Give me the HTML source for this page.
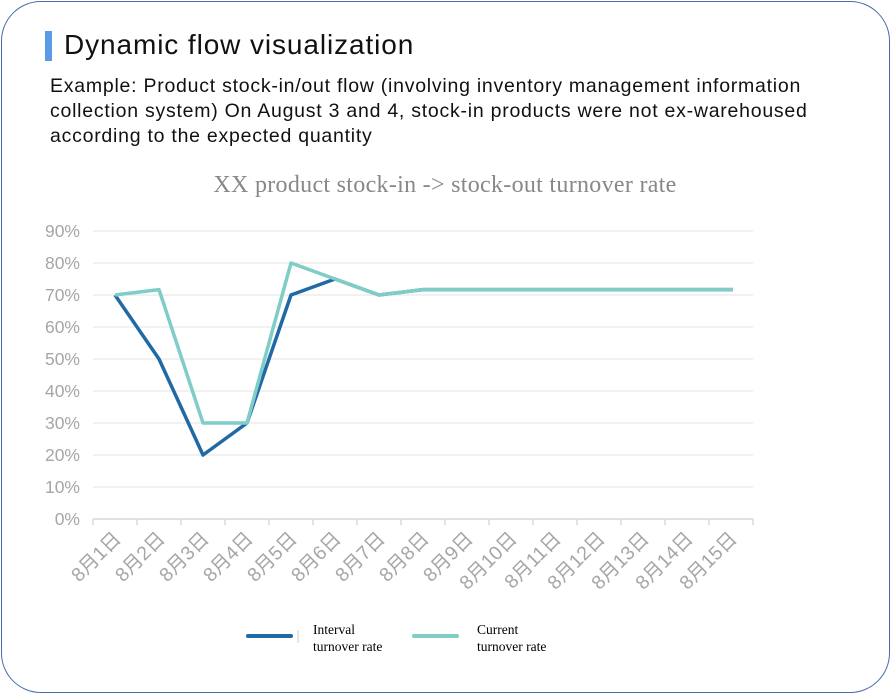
<!DOCTYPE html><html><head><style>
body{margin:0;background:#fff;width:892px;height:695px;overflow:hidden;font-family:"Liberation Sans","Noto Sans CJK SC",sans-serif}
.card{position:absolute;left:1px;top:1px;width:889px;height:692px;border:1.5px solid #4a6aa8;border-radius:40px;box-sizing:border-box}
.bar{position:absolute;left:45px;top:31px;width:7px;height:30px;background:#5b9be6}
.h{position:absolute;left:64px;top:29px;font-size:28px;letter-spacing:0.9px;color:#111}
.p{position:absolute;left:50px;top:74px;font-size:19.5px;letter-spacing:0.75px;line-height:25px;color:#111;width:790px}
</style></head><body>
<div class="card"></div><div class="bar"></div>
<div class="h">Dynamic flow visualization</div>
<div class="p">Example: Product stock-in/out flow (involving inventory management information collection system) On August 3 and 4, stock-in products were not ex-warehoused according to the expected quantity</div>
<svg width="892" height="695" style="position:absolute;left:0;top:0">
<text x="445" y="192" text-anchor="middle" font-family="Liberation Serif" font-size="24" letter-spacing="0.3" fill="#888">XX product stock-in -&gt; stock-out turnover rate</text>
<g stroke="#e3e3e3" stroke-width="1">
<line x1="93" x2="753" y1="231" y2="231"/><line x1="93" x2="753" y1="263" y2="263"/><line x1="93" x2="753" y1="295" y2="295"/><line x1="93" x2="753" y1="327" y2="327"/><line x1="93" x2="753" y1="359" y2="359"/><line x1="93" x2="753" y1="391" y2="391"/><line x1="93" x2="753" y1="423" y2="423"/><line x1="93" x2="753" y1="455" y2="455"/><line x1="93" x2="753" y1="487" y2="487"/>
</g>
<line x1="93" x2="753" y1="519" y2="519" stroke="#d9d9d9" stroke-width="1.5"/>
<g stroke="#d9d9d9" stroke-width="1.5">
<line x1="93" x2="93" y1="519" y2="525"/><line x1="137" x2="137" y1="519" y2="525"/><line x1="181" x2="181" y1="519" y2="525"/><line x1="225" x2="225" y1="519" y2="525"/><line x1="269" x2="269" y1="519" y2="525"/><line x1="313" x2="313" y1="519" y2="525"/><line x1="357" x2="357" y1="519" y2="525"/><line x1="401" x2="401" y1="519" y2="525"/><line x1="445" x2="445" y1="519" y2="525"/><line x1="489" x2="489" y1="519" y2="525"/><line x1="533" x2="533" y1="519" y2="525"/><line x1="577" x2="577" y1="519" y2="525"/><line x1="621" x2="621" y1="519" y2="525"/><line x1="665" x2="665" y1="519" y2="525"/><line x1="709" x2="709" y1="519" y2="525"/><line x1="753" x2="753" y1="519" y2="525"/>
</g>
<g font-size="17.5" fill="#a6a6a6" text-anchor="end">
<text x="80" y="237">90%</text><text x="80" y="269">80%</text><text x="80" y="301">70%</text><text x="80" y="333">60%</text><text x="80" y="365">50%</text><text x="80" y="397">40%</text><text x="80" y="429">30%</text><text x="80" y="461">20%</text><text x="80" y="493">10%</text><text x="80" y="525">0%</text>
</g>
<g font-size="19.5" fill="#a6a6a6" text-anchor="end">
<text transform="translate(122,540) rotate(-45)">8月1日</text>
<text transform="translate(166,540) rotate(-45)">8月2日</text>
<text transform="translate(210,540) rotate(-45)">8月3日</text>
<text transform="translate(254,540) rotate(-45)">8月4日</text>
<text transform="translate(298,540) rotate(-45)">8月5日</text>
<text transform="translate(342,540) rotate(-45)">8月6日</text>
<text transform="translate(386,540) rotate(-45)">8月7日</text>
<text transform="translate(430,540) rotate(-45)">8月8日</text>
<text transform="translate(474,540) rotate(-45)">8月9日</text>
<text transform="translate(518,540) rotate(-45)">8月10日</text>
<text transform="translate(562,540) rotate(-45)">8月11日</text>
<text transform="translate(606,540) rotate(-45)">8月12日</text>
<text transform="translate(650,540) rotate(-45)">8月13日</text>
<text transform="translate(694,540) rotate(-45)">8月14日</text>
<text transform="translate(738,540) rotate(-45)">8月15日</text>
</g>
<polyline fill="none" stroke="#1f6aa5" stroke-width="3.5" stroke-linejoin="round" points="115,295 159,359 203,455 247,423 291,295 335,279 379,295 423,289.6 467,289.6 511,289.6 555,289.6 599,289.6 643,289.6 687,289.6 733,289.6"/>
<polyline fill="none" stroke="#7fcdc6" stroke-width="3.5" stroke-linejoin="round" points="115,295 159,289.6 203,423 247,423 291,263 335,279 379,295 423,289.6 467,289.6 511,289.6 555,289.6 599,289.6 643,289.6 687,289.6 733,289.6"/>
<line x1="248" x2="291" y1="636" y2="636" stroke="#1f6aa5" stroke-width="4" stroke-linecap="round"/>
<line x1="298" x2="298" y1="630" y2="643" stroke="#ccc"/>
<text x="313" y="634" font-family="Liberation Serif" font-size="13.5">Interval</text>
<text x="313" y="651" font-family="Liberation Serif" font-size="13.5">turnover rate</text>
<line x1="414" x2="457" y1="636" y2="636" stroke="#7fcdc6" stroke-width="4" stroke-linecap="round"/>
<text x="477" y="634" font-family="Liberation Serif" font-size="13.5">Current</text>
<text x="477" y="651" font-family="Liberation Serif" font-size="13.5">turnover rate</text>
</svg>
</body></html>
